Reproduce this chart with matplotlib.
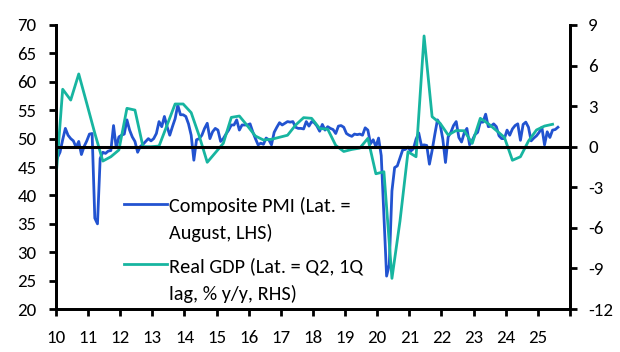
import numpy as np
import matplotlib
matplotlib.use("Agg")
import matplotlib.pyplot as plt

plt.rcParams['font.family'] = ['Carlito', 'DejaVu Sans']
plt.rcParams['axes.unicode_minus'] = False

# Composite PMI, monthly, Jan 2010 - Aug 2025 (LHS)
pmi = [
    46.6, 47.6, 49.8, 51.8, 50.6, 50.0, 49.6, 48.5, 49.5, 47.2, 48.6, 49.6,  # 2010
    50.8, 50.9, 36.0, 35.0, 46.5, 47.6, 47.4, 47.8, 47.9, 52.3, 48.4, 50.3,  # 2011
    50.6, 50.8, 53.3, 51.5, 50.3, 49.5, 47.6, 48.6, 49.0, 49.5, 50.0, 49.6,  # 2012
    50.0, 50.9, 53.0, 52.1, 53.9, 52.1, 50.6, 52.1, 53.5, 55.9, 54.2, 54.2,  # 2013
    53.9, 52.6, 50.6, 46.2, 49.8, 50.0, 50.6, 51.8, 52.7, 50.0, 51.2, 51.8,  # 2014
    51.5, 49.5, 50.0, 50.8, 51.5, 52.4, 52.4, 53.3, 51.5, 52.4, 52.4, 52.4,  # 2015
    52.6, 51.2, 50.0, 48.9, 49.2, 49.0, 50.1, 49.8, 48.9, 51.1, 52.0, 52.8,  # 2016
    52.4, 52.7, 53.0, 52.9, 53.0, 52.0, 51.8, 51.8, 51.7, 53.0, 52.2, 53.0,  # 2017
    52.8, 52.2, 51.3, 52.5, 51.5, 52.1, 51.8, 51.6, 50.9, 52.2, 52.3, 52.0,  # 2018
    50.9, 50.6, 50.4, 50.8, 50.7, 50.8, 50.6, 51.9, 51.5, 49.1, 49.8, 48.6,  # 2019
    50.1, 47.0, 36.2, 25.8, 27.8, 40.8, 44.9, 45.2, 46.6, 48.0, 48.1, 48.5,  # 2020
    47.8, 48.2, 49.9, 51.0, 48.8, 48.9, 48.8, 45.5, 47.9, 50.7, 53.3, 52.5,  # 2021
    49.9, 45.8, 50.3, 51.1, 52.3, 53.0, 50.2, 49.4, 51.0, 51.8, 48.9, 49.7,  # 2022
    50.7, 51.1, 52.9, 52.9, 54.3, 52.1, 52.2, 52.6, 52.1, 50.5, 50.0, 50.0,  # 2023
    51.5, 50.6, 51.7, 52.3, 52.6, 49.7, 52.5, 52.9, 52.0, 49.6, 50.1, 50.5,  # 2024
    51.1, 52.0, 48.9, 51.2, 50.2, 51.5, 51.6, 52.0,                          # 2025
]

# Real GDP % y/y, quarterly with 1Q lag (RHS), Q4 2009 plot point .. Q2 2025
gdp = [
    -3.6,
    4.25, 3.45, 5.38, 3.2,
    1.0, -1.06, -0.74, -0.24,
    2.84, 2.71, 0.0, 0.0,
    0.05, 1.6, 3.16, 3.16,
    2.52, 0.8, -1.15, -0.45,
    0.25, 2.17, 2.27, 1.55,
    0.79, 0.5, 0.55, 0.7,
    0.85, 1.6, 2.15, 2.1,
    1.35, 1.3, 0.1, -0.35,
    -0.2, -0.1, 0.62, -2.0,
    -1.85, -9.73, -5.5, -0.37,
    -0.74, 8.19, 2.22, 1.73,
    0.87, 1.2, 1.18, 0.25,
    2.1, 1.7, 1.2, 0.7,
    -1.0, -0.74, 0.42, 1.24,
    1.53, 1.66,
]

# dates as decimal years (mid-month; GDP at mid of quarter's last month)
t_pmi = 2010 + (np.arange(len(pmi)) + 0.5) / 12
t_gdp = 2010 + (3 * np.arange(-1, len(gdp) - 1) + 2.5) / 12

years = list(range(2010, 2027))
year_labels = [str(y % 100) for y in range(2010, 2026)] + [""]

blue = "#2253d0"
teal = "#17b5a0"

fig = plt.figure(figsize=(6.2, 3.52), dpi=100)
ax = fig.add_axes([0.0903, 0.122, 0.829, 0.807])
ax2 = ax.twinx()

l1, = ax.plot(t_pmi, pmi, color=blue, lw=2.0, solid_joinstyle="round",
              label="Composite PMI (Lat. =\nAugust, LHS)")
l2, = ax2.plot(t_gdp, gdp, color=teal, lw=2.0, solid_joinstyle="round",
               label="Real GDP (Lat. = Q2, 1Q\nlag, % y/y, RHS)")
ax2.axhline(0, color="black", lw=2.2, zorder=5)

ax.set_xlim(2010, 2026)
ax.set_ylim(20, 70)
ax2.set_ylim(-12, 9)
ax.set_yticks(range(20, 71, 5))
ax2.set_yticks(range(-12, 10, 3))
ax.set_xticks(years)
ax.set_xticklabels(year_labels)

for a in (ax, ax2):
    a.spines["top"].set_visible(False)
    for s in ("left", "right", "bottom"):
        a.spines[s].set_linewidth(2)
        a.spines[s].set_color("black")
    a.tick_params(direction="out", length=5, width=2, labelsize=13.6,
                  colors="black")
ax.tick_params(axis="y", pad=9)
ax2.tick_params(axis="y", pad=8)
ax.tick_params(axis="x", pad=10)

leg = ax.legend(handles=[l1, l2], loc="upper left",
                bbox_to_anchor=(0.132, 0.395), frameon=False,
                fontsize=14.6, handlelength=2.12, handletextpad=0.13,
                labelspacing=0.72, borderaxespad=0, borderpad=0)
for txt in leg.get_texts():
    txt.set_linespacing(1.63)
# put each handle level with the first line of its label
try:
    for col in leg._legend_handle_box.get_children():
        for row in col.get_children():
            row.align = "top"
except AttributeError:
    pass

fig.savefig("out.png", dpi=100)
